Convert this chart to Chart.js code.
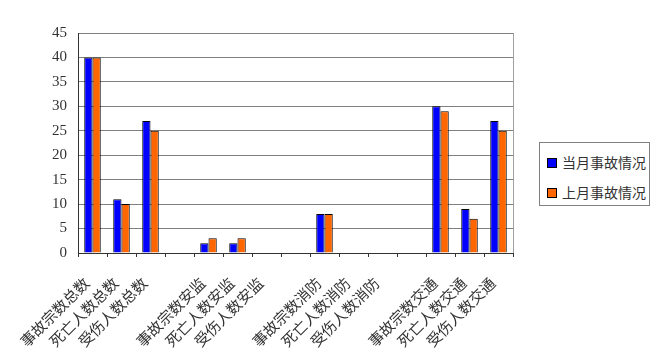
<!DOCTYPE html>
<html>
<head>
<meta charset="utf-8">
<script src="https://cdn.jsdelivr.net/npm/chart.js@4/dist/chart.umd.min.js"></script>
<style>
  html, body { margin: 0; padding: 0; background: #fff; }
  #wrap { position: relative; width: 664px; height: 354px; }
  #legend {
    position: absolute; left: 539px; top: 142px; width: 111px; height: 64px;
    box-sizing: border-box; border: 1px solid #808080; background: #fff;
    font-family: "Noto Sans CJK SC", sans-serif; font-size: 14px; color: #333;
  }
  #legend .item { position: absolute; left: 7px; height: 18px; line-height: 18px; white-space: nowrap; }
  #legend .sw { display: inline-block; width: 8px; height: 8px; border: 1px solid #000; margin-right: 5px; vertical-align: 0px; }
</style>
</head>
<body>
<div id="wrap">
  <canvas id="chart" width="664" height="354"></canvas>
  <div id="legend"></div>
</div>
<script>
// categories ('' = spacer column between groups)
const categories = [
  '事故宗数总数', '死亡人数总数', '受伤人数总数', '',
  '事故宗数安监', '死亡人数安监', '受伤人数安监', '',
  '事故宗数消防', '死亡人数消防', '受伤人数消防', '',
  '事故宗数交通', '死亡人数交通', '受伤人数交通'
];
const thisMonth = [40, 11, 27, null, 2, 2, 0, null, 8, 0, 0, null, 30, 9, 27];
const lastMonth = [40, 10, 25, null, 3, 3, 0, null, 8, 0, 0, null, 29, 7, 25];
const seriesNames = ['当月事故情况', '上月事故情况'];
const seriesColors = ['#0000ff', '#ff6600'];
const yTicks = [0, 5, 10, 15, 20, 25, 30, 35, 40, 45];

// right-hand frame of the plot area
const frame = {
  id: 'frame',
  afterDraw(chart) {
    const a = chart.chartArea, c = chart.ctx;
    c.save();
    c.strokeStyle = '#a0a0a0';
    c.lineWidth = 1;
    c.beginPath();
    c.moveTo(Math.round(a.right) + 0.5, a.top);
    c.lineTo(Math.round(a.right) + 0.5, a.bottom);
    c.stroke();
    c.restore();
  }
};

new Chart(document.getElementById('chart'), {
  type: 'bar',
  data: {
    labels: categories,
    datasets: [
      { label: seriesNames[0], data: thisMonth, backgroundColor: seriesColors[0], borderColor: '#000', borderWidth: 1 },
      { label: seriesNames[1], data: lastMonth, backgroundColor: seriesColors[1], borderColor: '#000', borderWidth: 1 }
    ]
  },
  options: {
    responsive: false, animation: false,
    categoryPercentage: 0.57, barPercentage: 1,
    layout: { padding: { top: 33, right: 151, left: 0, bottom: 0 } },
    plugins: { legend: { display: false }, tooltip: { enabled: false } },
    scales: {
      x: {
        offset: true,
        grid: { drawOnChartArea: false, drawTicks: true, tickLength: 4, color: '#333', offset: true },
        border: { color: '#333', width: 1 },
        ticks: {
          autoSkip: false, minRotation: 45, maxRotation: 45, padding: 17, labelOffset: -6,
          color: '#333', font: { family: '"Noto Sans CJK SC", sans-serif', size: 15 }
        },
        afterFit: s => { s.height = 101; }
      },
      y: {
        min: 0, max: 45,
        afterBuildTicks: s => { s.ticks = yTicks.map(v => ({ value: v })); },
        grid: { color: '#808080', drawTicks: false },
        border: { color: '#333', width: 1 },
        ticks: { padding: 11, color: '#333', font: { family: '"Liberation Serif", serif', size: 15 } },
        afterFit: s => { s.width = 78; }
      }
    }
  },
  plugins: [frame]
});

// legend box
const lg = document.getElementById('legend');
seriesNames.forEach((n, i) => {
  const d = document.createElement('div');
  d.className = 'item';
  d.style.top = (10 + i * 30) + 'px';
  d.innerHTML = '<span class="sw" style="background:' + seriesColors[i] + '"></span>' + n;
  lg.appendChild(d);
});
</script>
</body>
</html>
